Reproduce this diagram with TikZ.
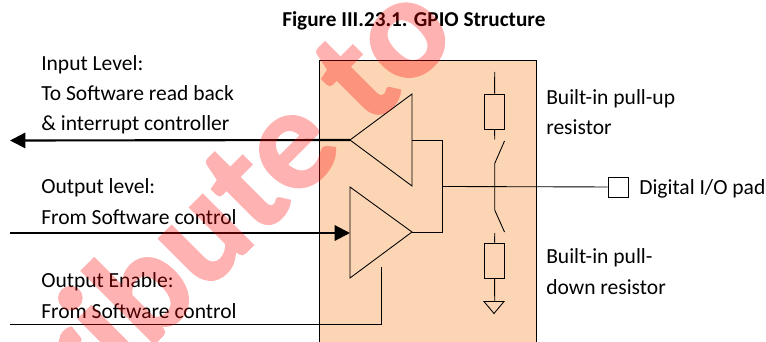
\documentclass[tikz,border=0pt]{standalone}
\usepackage{fontspec}
\setmainfont{Carlito}
\newfontfamily\markfont[BoldFeatures={FakeBold=1.2}]{Carlito}
\usetikzlibrary{arrows.meta}
\definecolor{boxfill}{RGB}{252,213,180}
\tikzset{
  label/.style={anchor=base west,align=left,inner sep=0pt,font=\fontsize{16.15}{22.8}\selectfont},
  wire/.style={draw,line width=0.65pt},
  bigwire/.style={draw,line width=1.6pt,-{Triangle[length=11.5pt,width=11.5pt]}},
  partbox/.style={draw,line width=0.65pt,inner sep=0pt},
}
\begin{document}
\begin{tikzpicture}[x=0.75pt,y=-0.75pt]
  \useasboundingbox (0,0) rectangle (766,342);

  \node[label,font=\bfseries\fontsize{15.9}{18}\selectfont] (title) at (282,27) {Figure III.23.1. GPIO Structure};

  % the block
  \path[fill=boxfill] (319,60) rectangle (536,342);
  \coordinate (boxtl) at (319,60);
  \coordinate (boxtr) at (536,60);
  \coordinate (boxbl) at (319,342);
  \coordinate (boxbr) at (536,342);
  \draw[wire] (boxbl) -- (boxtl) -- (boxtr) -- (boxbr);

  % buffers
  \coordinate (in1) at (350,140);
  \coordinate (in2) at (412,94);
  \coordinate (in3) at (412,186);
  \coordinate (out1) at (350,187);
  \coordinate (out2) at (350,278);
  \coordinate (out3) at (412,232);
  \draw[wire] (in1) -- (in2) -- (in3) -- cycle;
  \draw[wire] (out1) -- (out2) -- (out3) -- cycle;

  % joining wire
  \coordinate (inr) at (412,140);
  \coordinate (j1) at (442.7,140);
  \coordinate (j2) at (442.7,232);
  \coordinate (j3) at (442.7,186.5);
  \draw[wire] (inr) -- (j1) -- (j2) -- (out3);
  \node[partbox,minimum size=15pt] (pad) at (618,187) {};
  \draw[wire] (j3) -- (pad);

  % pull-up and pull-down
  \node[partbox,minimum width=15.4pt,minimum height=26.2pt] (rup) at (494.5,111.5) {};
  \node[partbox,minimum width=15.4pt,minimum height=26.2pt] (rdown) at (494.5,260.5) {};
  \coordinate (vtop) at (494.7,72);
  \coordinate (stubup) at (494.7,139.5);
  \coordinate (swup1) at (504.5,141);
  \coordinate (swup2) at (494.7,163.5);
  \coordinate (swdn1) at (494.7,210);
  \coordinate (swdn2) at (504.5,232);
  \coordinate (stubdn) at (494.7,233);
  \coordinate (gndtop) at (494.7,301.5);
  \draw[wire] (vtop) -- (rup);
  \draw[wire] (rup) -- (stubup);
  \draw[wire] (swup1) -- (swup2) -- (swdn1) -- (swdn2);
  \draw[wire] (stubdn) -- (rdown);
  \draw[wire] (rdown) -- (gndtop);
  \coordinate (gnd1) at (484,301.5);
  \coordinate (gnd2) at (504,301.5);
  \coordinate (gnd3) at (494,313.5);
  \draw[wire] (gnd1) -- (gnd2) -- (gnd3) -- cycle;

  % left side signals
  \coordinate (inend) at (10,140.5);
  \coordinate (outstart) at (10,233);
  \coordinate (outend) at (350,233);
  \coordinate (enstart) at (10,324);
  \coordinate (encorner) at (381,324);
  \coordinate (enend) at (381,267);
  \path[bigwire] (in1) -- (inend);
  \path[bigwire] (outstart) -- (outend);
  \draw[wire] (enstart) -- (encorner) -- (enend);

  \node[label] (inlabel) at (41,131) {Input Level:\\To Software read back\\\& interrupt controller};
  \node[label] (outlabel) at (41,224) {Output level:\\From Software control};
  \node[label] (enlabel) at (41,318) {Output Enable:\\From Software control};
  \node[label] (uplabel) at (546,135) {Built-in pull-up\\resistor};
  \node[label] (downlabel) at (546,294) {Built-in pull-\\down resistor};
  \node[label] (padlabel) at (639,194) {Digital I/O pad};

  \begin{scope}[transparency group,opacity=0.3]
    \node[rotate=45,text=red,font=\markfont\bfseries\fontsize{110}{110}\selectfont,inner sep=0pt] (mark) at (237,189) {ribute to};
  \end{scope}
\end{tikzpicture}
\end{document}
